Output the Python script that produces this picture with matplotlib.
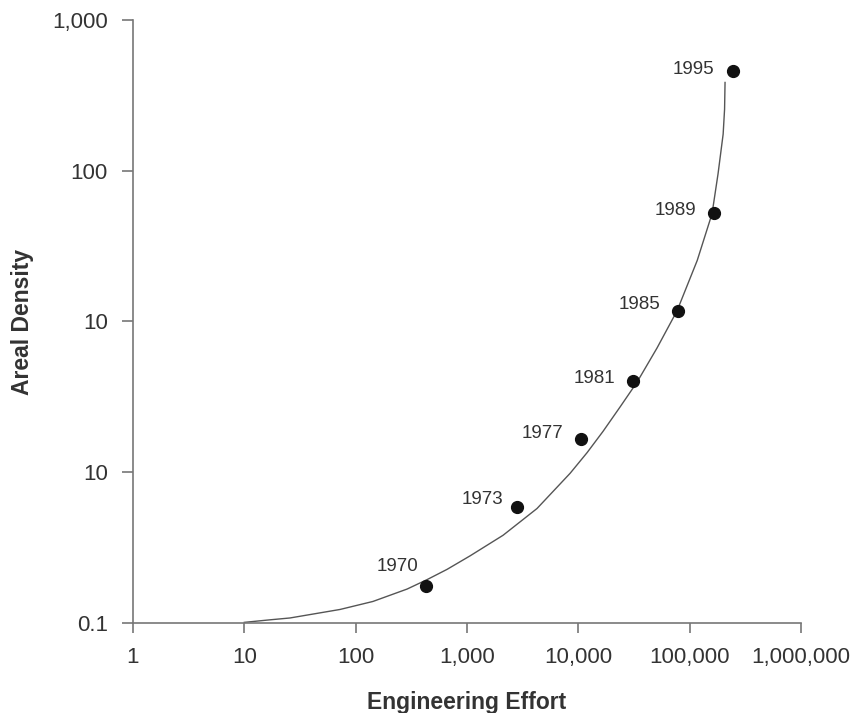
import matplotlib
matplotlib.use("Agg")
import matplotlib.pyplot as plt
from matplotlib.ticker import NullLocator

plt.rcParams['font.family'] = ['Liberation Sans', 'DejaVu Sans']

# Data points (engineering effort vs areal density)
years = ["1970", "1973", "1977", "1981", "1985", "1989", "1995"]
effort = [430, 2820, 10600, 31100, 78800, 166000, 246000]
density = [0.177, 0.585, 1.66, 4.02, 11.8, 52.7, 462]

# Trend curve
curve_x = [10, 17.0, 25.7, 72.4, 143, 290, 438, 663, 1067, 2110, 4260, 8440,
           12000, 16700, 23800, 33700, 51000, 77200, 117000, 159000, 180000,
           200000, 206000, 208000]
curve_y = [0.101, 0.105, 0.108, 0.123, 0.139, 0.168, 0.194, 0.227, 0.279,
           0.382, 0.575, 0.984, 1.35, 1.87, 2.72, 3.96, 6.68, 11.8, 25.4, 51.9,
           95.5, 175, 256, 385]

x_ticks = [1, 10, 100, 1000, 10000, 100000, 1000000]
x_tick_labels = ["1", "10", "100", "1,000", "10,000", "100,000", "1,000,000"]
y_ticks = [0.1, 1, 10, 100, 1000]
y_tick_labels = ["0.1", "10", "10", "100", "1,000"]

# label offsets in pixels (right edge relative to point, up)
label_off_px = [(-8, 19), (-14, 8), (-18, 6), (-18, 3), (-18, 6), (-18, 2), (-19, 1)]

fig = plt.figure(figsize=(8.54, 7.13), dpi=100)
ax = fig.add_axes([0.1557, 0.1262, 0.9379 - 0.1557, 0.972 - 0.1262])
ax.set_xscale('log')
ax.set_yscale('log')
ax.set_xlim(1, 1000000)
ax.set_ylim(0.1, 1000)

ax.plot(curve_x, curve_y, color='#555555', lw=1.0, zorder=2,
        solid_joinstyle='round')
ax.plot(effort, density, 'o', color='#111111', markersize=8.5, zorder=3, clip_on=False)

for yr, xv, yv, (dx, dy) in zip(years, effort, density, label_off_px):
    ax.annotate(yr, (xv, yv), xytext=(dx * 0.72, dy * 0.72), textcoords='offset points',
                ha='right', va='center', fontsize=13.5, color='#333333')

ax.set_xticks(x_ticks)
ax.set_xticklabels(x_tick_labels)
ax.set_yticks(y_ticks)
ax.set_yticklabels(y_tick_labels)
ax.xaxis.set_minor_locator(NullLocator())
ax.yaxis.set_minor_locator(NullLocator())

for s in ['top', 'right']:
    ax.spines[s].set_visible(False)
for s in ['left', 'bottom']:
    ax.spines[s].set_color('#777777')
    ax.spines[s].set_linewidth(1.2)

ax.tick_params(axis='y', direction='out', length=8, width=1.2, color='#777777',
               labelsize=16, labelcolor='#333333', pad=10)
ax.tick_params(axis='x', direction='out', length=7, width=1.2, color='#777777',
               labelsize=16, labelcolor='#333333', pad=10)

ax.set_xlabel("Engineering Effort", fontsize=16.5, fontweight='bold', color='#333333', labelpad=17)
ax.set_ylabel("Areal Density", fontsize=16.5, fontweight='bold', color='#333333', labelpad=13)

fig.savefig("out.png", dpi=100)
